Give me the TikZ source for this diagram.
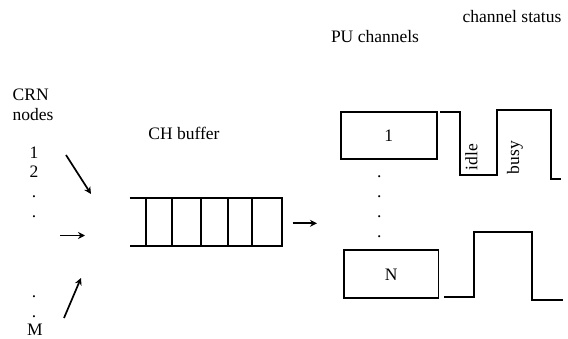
\documentclass[tikz,border=0pt]{standalone}
\usepackage{fontspec}
\setmainfont{Liberation Serif}
\usetikzlibrary{arrows.meta}
\begin{document}
\begin{tikzpicture}[x=1pt,y=-1pt,
  lbl/.style={inner sep=0pt,font=\fontsize{17.5}{21}\selectfont},
  ln/.style={line width=1.7pt},
  arr/.style={line width=1.7pt,-{Stealth[length=7pt,width=7pt]}},
  chbox/.style={draw,line width=1.7pt,inner sep=0pt}]
\useasboundingbox (0,0) rectangle (568,339);
% titles
\node[lbl] (status) at (512,17) {channel status};
\node[lbl] (pu) at (375,37) {PU channels};
\node[lbl,anchor=west,align=left] (crn) at (12.5,104.5) {CRN\\[-1pt]nodes};
\node[lbl] (chb) at (184,133) {CH buffer};
% node list
\node[lbl] (n1) at (34,153) {1};
\node[lbl] (n2) at (34,171.5) {2};
\node[lbl] (d1) at (34,197) {.};
\node[lbl] (d2) at (34,217) {.};
\node[lbl] (d3) at (34,297) {.};
\node[lbl] (d4) at (34,317) {.};
\node[lbl] (nM) at (35,329.5) {M};
% incoming arrows
\coordinate (a1s) at (66,155); \coordinate (a1e) at (91,194);
\coordinate (a2s) at (60,235.5); \coordinate (a2e) at (85,235.5);
\coordinate (a3s) at (64,318); \coordinate (a3e) at (81,278);
\draw[arr] (a1s) -- (a1e);
\draw[arr] (a2s) -- (a2e);
\draw[arr] (a3s) -- (a3e);
% buffer
\coordinate (bufTL) at (129.5,198.3);
\coordinate (bufBL) at (129.5,246);
\coordinate (bufTR) at (281.7,198.3);
\coordinate (bufBR) at (281.7,246);
\draw[ln] (bufTL) -- (bufTR) -- (bufBR) -- (bufBL);
\foreach \x in {145.7,172.3,201,228.3,252.3}
  \draw[ln] (\x,198.3) -- (\x,246);
% arrow to channels
\coordinate (o1) at (292.5,223.3); \coordinate (o2) at (317,223.3);
\draw[arr] (o1) -- (o2);
% channels
\node[chbox,lbl,minimum width=96pt,minimum height=47.6pt] (c1) at (388.7,135.5) {1};
\node[chbox,lbl,minimum width=94.3pt,minimum height=48pt] (cN) at (391.2,274.3) {N};
\foreach \y in {177,197,216.5,236.5}
  \node[lbl] at (379.3,\y) {.};
% waveforms
\draw[ln] (440,111.7) -- (460,111.7) -- (460,175.3) -- (497.3,175.3) -- (497.3,110) -- (550.7,110) -- (550.7,178.7) -- (560.7,178.7);
\draw[ln] (444,297.3) -- (474.3,297.3) -- (474.3,231.7) -- (532,231.7) -- (532,300) -- (563,300);
\node[lbl,rotate=90] (idle) at (471.5,157) {idle};
\node[lbl,rotate=90] (busy) at (515,157.5) {busy};
\end{tikzpicture}
\end{document}
